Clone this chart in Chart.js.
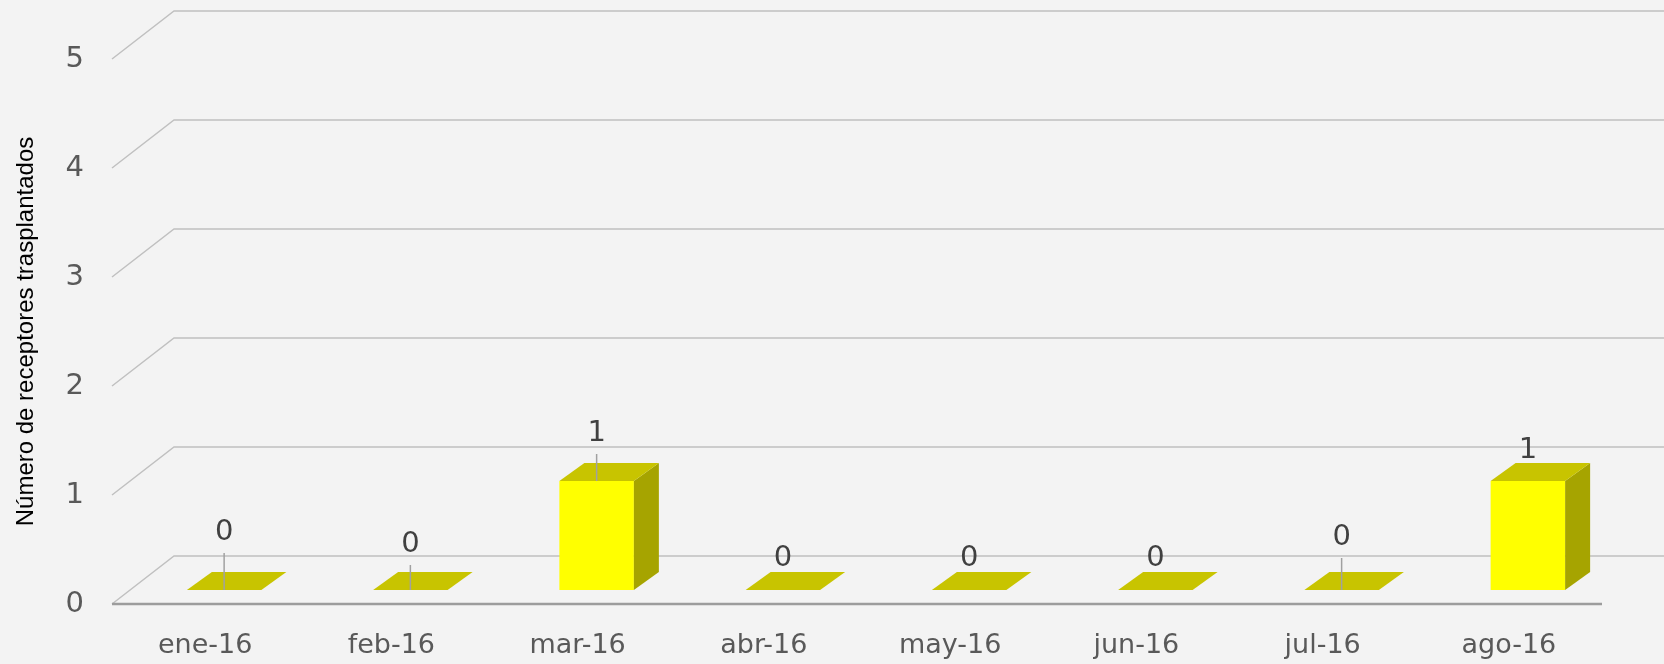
<!DOCTYPE html>
<html>
<head>
<meta charset="utf-8">
<script src="https://cdn.jsdelivr.net/npm/chart.js@4"></script>
<style>
  html, body { margin: 0; padding: 0; background: #f3f3f3; }
  #wrap { width: 1664px; height: 664px; position: relative; }
</style>
</head>
<body>
<div id="wrap"><canvas id="chart"></canvas></div>
<script>
// Data
const months = ['ene-16', 'feb-16', 'mar-16', 'abr-16', 'may-16', 'jun-16', 'jul-16', 'ago-16'];
const receptores = [0, 0, 1, 0, 0, 0, 0, 1];
const yTicks = [0, 1, 2, 3, 4, 5];
const yTitle = 'Número de receptores trasplantados';

// 3D look: back wall offset, bar offset inside the floor and bar depth
const depth = { wallX: 62, wallY: -48, barX: 19, barY: -14, dX: 25, dY: -18 };
// how far above the bar each label sits (px), as placed in the original
const labelLift = [58, 46, 48, 32, 32, 32, 53, 31];

const wideFont = '"DejaVu Sans", Verdana, sans-serif';
const titleFont = '"Liberation Sans", Arial, sans-serif';

const walls3d = {
    id: 'walls3d',
    beforeDatasetsDraw(c) {
        const ctx = c.ctx;
        const area = c.chartArea;
        const y = c.scales.y;
        ctx.save();
        ctx.lineWidth = 1.5;
        ctx.strokeStyle = '#c0c0c0';
        yTicks.forEach(v => {
            const py = y.getPixelForValue(v);
            ctx.beginPath();
            ctx.moveTo(area.left, py);
            ctx.lineTo(area.left + depth.wallX, py + depth.wallY);
            ctx.lineTo(area.right + depth.wallX, py + depth.wallY);
            ctx.stroke();
        });
        // floor front edge
        const p0 = y.getPixelForValue(0);
        ctx.strokeStyle = '#9c9c9c';
        ctx.lineWidth = 2.5;
        ctx.beginPath();
        ctx.moveTo(area.left, p0);
        ctx.lineTo(area.right, p0);
        ctx.stroke();
        ctx.restore();
    }
};

const bars3d = {
    id: 'bars3d',
    afterDatasetsDraw(c) {
        const ctx = c.ctx;
        const meta = c.getDatasetMeta(0);
        ctx.save();
        meta.data.forEach((bar, i) => {
            const L = bar.x - bar.width / 2 + depth.barX;
            const R = bar.x + bar.width / 2 + depth.barX;
            const T = bar.y + depth.barY;
            const B = bar.base + depth.barY;
            if (B - T > 0.5) {
                ctx.fillStyle = '#ffff00';
                ctx.fillRect(L, T, R - L, B - T);
                ctx.fillStyle = '#a6a400';
                ctx.beginPath();
                ctx.moveTo(R, T);
                ctx.lineTo(R + depth.dX, T + depth.dY);
                ctx.lineTo(R + depth.dX, B + depth.dY);
                ctx.lineTo(R, B);
                ctx.closePath();
                ctx.fill();
            }
            ctx.fillStyle = '#c8c400';
            ctx.beginPath();
            ctx.moveTo(L, T);
            ctx.lineTo(L + depth.dX, T + depth.dY);
            ctx.lineTo(R + depth.dX, T + depth.dY);
            ctx.lineTo(R, T);
            ctx.closePath();
            ctx.fill();

            // value label, with a leader line when it floats high
            const cx = bar.x + depth.barX;
            const ly = T - labelLift[i];
            if (labelLift[i] > 40) {
                ctx.strokeStyle = '#a0a0a0';
                ctx.lineWidth = 1.5;
                ctx.beginPath();
                ctx.moveTo(cx, ly + 21);
                ctx.lineTo(cx, T);
                ctx.stroke();
            }
            ctx.fillStyle = '#404040';
            ctx.font = '29px ' + wideFont;
            ctx.textAlign = 'center';
            ctx.textBaseline = 'middle';
            ctx.fillText(String(receptores[i]), cx, ly);
        });
        ctx.restore();
    }
};

const ctx = document.getElementById('chart').getContext('2d');
const chart = new Chart(ctx, {
    type: 'bar',
    data: {
        labels: months,
        datasets: [{
            label: 'Receptores',
            data: receptores,
            backgroundColor: 'rgba(0,0,0,0)',
            borderWidth: 0,
            barPercentage: 0.4,
            categoryPercentage: 1
        }]
    },
    options: {
        responsive: true,
        maintainAspectRatio: false,
        animation: false,
        layout: { padding: { top: 59, right: 62, bottom: 0, left: 0 } },
        plugins: {
            legend: { display: false },
            tooltip: { enabled: false }
        },
        scales: {
            x: {
                grid: { display: false, drawTicks: false },
                border: { display: false },
                ticks: {
                    color: '#595959',
                    padding: 26,
                    font: { family: wideFont, size: 27 }
                },
                afterFit(s) { s.height = 60; }
            },
            y: {
                min: 0,
                max: 5,
                afterBuildTicks(s) { s.ticks = yTicks.map(v => ({ value: v })); },
                grid: { display: false, drawTicks: false },
                border: { display: false },
                ticks: {
                    color: '#595959',
                    padding: 28,
                    font: { family: wideFont, size: 29 }
                },
                title: {
                    display: true,
                    text: yTitle,
                    color: '#000000',
                    padding: { top: 12, bottom: 0 },
                    font: { family: titleFont, size: 24 }
                },
                afterFit(s) { s.width = 112; }
            }
        }
    },
    plugins: [walls3d, bars3d]
});
</script>
</body>
</html>
